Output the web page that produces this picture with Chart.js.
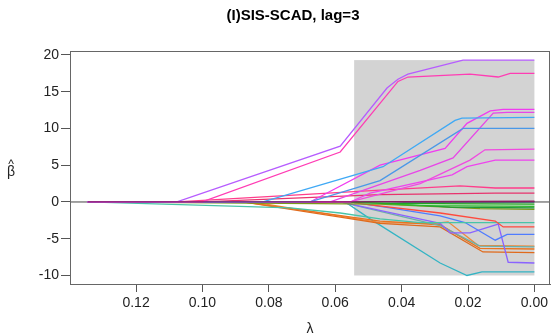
<!DOCTYPE html>
<html>
<head>
<meta charset="utf-8">
<script src="https://cdn.jsdelivr.net/npm/chart.js@4.4.1/dist/chart.umd.min.js"></script>
<style>
  body { margin: 0; background: #fff; }
  #wrap { width: 552px; height: 336px; }
</style>
</head>
<body>
<div id="wrap"><canvas id="pathChart" width="552" height="336"></canvas></div>
<script>
// coefficient paths: [lambda, beta]
const pathMaroon   = [[0.1346, 0], [0.0585, 0], [0, 0.1]];
const pathPurple   = [[0.1346, 0], [0.1077, 0], [0.0585, 7.6], [0.0444, 15.5], [0.0411, 16.7], [0.0381, 17.4], [0.0215, 19.3], [0, 19.3]];
const pathPink     = [[0.1346, 0], [0.1001, 0], [0.0585, 6.8], [0.0411, 16.4], [0.0381, 17.0], [0.0194, 17.4], [0.0109, 17.0], [0.0073, 17.5], [0, 17.5]];
const pathBlue1    = [[0.1346, 0], [0.0818, 0], [0.0456, 4.8], [0.0239, 11.1], [0.0218, 11.4], [0, 11.5]];
const pathBlue2    = [[0.1346, 0], [0.0676, 0], [0.0465, 2.9], [0.0215, 10.0], [0, 10.0]];
const pathMagA     = [[0.1346, 0], [0.0676, 0], [0.0465, 5.0], [0.0269, 7.3], [0.0203, 10.7], [0.0133, 12.4], [0.0094, 12.6], [0, 12.6]];
const pathMagB     = [[0.1346, 0], [0.0615, 0], [0.0344, 4.3], [0.0245, 6.0], [0.0124, 12.1], [0.0082, 12.2], [0, 12.2]];
const pathMagC     = [[0.1346, 0], [0.0555, 0], [0.0344, 2.5], [0.0194, 5.7], [0.0149, 7.1], [0, 7.2]];
const pathMagD     = [[0.1346, 0], [0.0555, 0], [0.0495, 1.2], [0.0248, 3.7], [0.0203, 4.8], [0.0118, 5.7], [0, 5.7]];
const pathPinkE    = [[0.1346, 0], [0.1077, 0], [0.0465, 1.6], [0.0224, 2.2], [0.0118, 1.9], [0, 1.9]];
const pathPinkF    = [[0.1346, 0], [0.1001, 0], [0.0465, 1.0], [0.0118, 1.2], [0, 1.2]];
const pathGreen1   = [[0.1346, 0], [0.0585, 0], [0.0435, -0.2], [0, -0.3]];
const pathGreen2   = [[0.1346, 0], [0.0543, 0], [0.0344, -0.5], [0, -0.6]];
const pathPale     = [[0.1346, 0], [0.0585, 0], [0.0254, -0.4], [0, -0.4]];
const pathGreen3   = [[0.1346, 0], [0.0495, 0], [0.0254, -0.7], [0, -0.8]];
const pathOlive    = [[0.1346, 0], [0.0465, -0.3], [0.0164, -0.9], [0, -1.0]];
const pathNavy     = [[0.1346, 0], [0, 0]];
const pathRed      = [[0.1346, 0], [0.0555, 0], [0.0495, -0.4], [0.0284, -1.5], [0.0118, -2.6], [0.0094, -3.4], [0, -3.4]];
const pathTeal     = [[0.1346, 0], [0.0736, -0.8], [0.0585, -1.5], [0.0465, -2.3], [0.0344, -2.8], [0, -2.8]];
const pathBlue3    = [[0.1346, 0], [0.0555, 0], [0.0435, -0.8], [0.0284, -1.9], [0.0209, -2.8], [0.0118, -5.2], [0.0082, -4.4], [0, -4.4]];
const pathViolet   = [[0.1346, 0], [0.0585, 0], [0.0284, -2.9], [0.0254, -4.2], [0.0194, -4.2], [0.0109, -3.0], [0.0079, -8.2], [0, -8.3]];
const pathTealGray = [[0.1346, 0], [0.0585, 0], [0.0284, -3.2], [0.0164, -6.0], [0, -6.1]];
const pathOrange1  = [[0.1346, 0], [0.0878, 0], [0.0465, -2.6], [0.0284, -3.1], [0.0164, -6.3], [0, -6.4]];
const pathOrange2  = [[0.1346, 0], [0.0878, 0], [0.0465, -2.9], [0.0284, -3.4], [0.0155, -6.8], [0, -6.9]];
const pathOrange3  = [[0.1346, 0], [0.0850, 0], [0.0465, -2.8], [0.0300, -2.9], [0.0260, -2.7], [0.0170, -5.9], [0, -6.0]];
const pathCyan     = [[0.1346, 0], [0.0570, 0], [0.0495, -2.3], [0.0284, -8.3], [0.0203, -10.0], [0.0158, -9.5], [0, -9.5]];

const allPaths = [pathMaroon, pathPurple, pathPink, pathBlue1, pathBlue2, pathMagA, pathMagB, pathMagC, pathMagD,
  pathPinkE, pathPinkF, pathGreen1, pathGreen2, pathPale, pathGreen3, pathOlive, pathNavy, pathRed, pathTeal,
  pathBlue3, pathViolet, pathTealGray, pathOrange1, pathOrange2, pathOrange3, pathCyan];
const pathColors = ["#8b1c62", "#b65cff", "#ff3cb4", "#3fa9f5", "#4a98e8", "#f03cf0", "#e845e8", "#f04ae0", "#ee44ee",
  "#ff3d8b", "#e8336e", "#22a622", "#2eb82e", "#d8f5d8", "#1a9a3a", "#7a9a1a", "#1c3c5c", "#ff4a3d", "#48c4a8",
  "#4f7cff", "#8a63ff", "#6ab0a8", "#e8731f", "#e06a1c", "#f0883a", "#33b4c4"];

// selected region (lambda range, beta range) and tick values
const shadeLambda = [0.0543, 0];
const shadeBeta = [-10, 19.3];
const xTickValues = [0, 0.02, 0.04, 0.06, 0.08, 0.10, 0.12];
const yTickValues = [-10, -5, 0, 5, 10, 15, 20];

const FONT = "'Liberation Sans', Arial, Helvetica, sans-serif";

const backdrop = {
  id: "backdrop",
  beforeDatasetsDraw(chart) {
    const { ctx, chartArea, scales } = chart;
    const x0 = scales.x.getPixelForValue(shadeLambda[0]);
    const x1 = scales.x.getPixelForValue(shadeLambda[1]);
    const y0 = scales.y.getPixelForValue(shadeBeta[1]);
    const y1 = scales.y.getPixelForValue(shadeBeta[0]);
    ctx.save();
    ctx.fillStyle = "#d3d3d3";
    ctx.fillRect(x0, y0, x1 - x0, y1 - y0);
    const yz = scales.y.getPixelForValue(0);
    ctx.strokeStyle = "#444";
    ctx.lineWidth = 1;
    ctx.beginPath();
    ctx.moveTo(chartArea.left, yz);
    ctx.lineTo(chartArea.right, yz);
    ctx.stroke();
    ctx.restore();
  },
  afterDraw(chart) {
    const { ctx, chartArea } = chart;
    ctx.save();
    ctx.strokeStyle = "#666";
    ctx.lineWidth = 1;
    ctx.strokeRect(chartArea.left + 0.5, chartArea.top + 0.5,
      chartArea.right - chartArea.left - 1, chartArea.bottom - chartArea.top);
    // title and y label
    ctx.fillStyle = "#000";
    ctx.textAlign = "center";
    ctx.textBaseline = "middle";
    ctx.font = "bold 15px " + FONT;
    ctx.fillText("(I)SIS-SCAD, lag=3", 293, 16);
    ctx.fillStyle = "#222";
    ctx.font = "14px " + FONT;
    ctx.fillText("β", 11, 172);
    ctx.font = "12px " + FONT;
    ctx.fillText("^", 11, 165);
    ctx.restore();
  }
};

const datasets = allPaths.map((p, i) => ({
  data: p.map(pt => ({ x: pt[0], y: pt[1] })),
  borderColor: pathColors[i],
  borderWidth: 1.3,
  pointRadius: 0,
  fill: false,
  tension: 0
}));

new Chart(document.getElementById("pathChart"), {
  type: "line",
  data: { datasets },
  options: {
    responsive: false,
    animation: false,
    devicePixelRatio: 1,
    layout: { padding: { top: 51, right: 2, left: 0, bottom: 0 } },
    plugins: { legend: { display: false }, tooltip: { enabled: false } },
    scales: {
      x: {
        type: "linear",
        reverse: true,
        min: -0.0047,
        max: 0.1399,
        afterBuildTicks: s => { s.ticks = xTickValues.map(v => ({ value: v })); },
        afterFit: s => { s.height = 52; },
        grid: { drawOnChartArea: false, color: "#555", tickLength: 8 },
        border: { color: "#666" },
        ticks: {
          color: "#222", padding: 3, maxRotation: 0,
          font: { family: FONT, size: 14 },
          callback: v => v.toFixed(2)
        },
        title: {
          display: true, text: "λ", color: "#222",
          font: { family: FONT, size: 14, lineHeight: 1 },
          padding: { top: 0, bottom: 0 }
        }
      },
      y: {
        min: -11.16,
        max: 20.54,
        afterBuildTicks: s => { s.ticks = yTickValues.map(v => ({ value: v })); },
        afterFit: s => { s.width = 70; },
        grid: { drawOnChartArea: false, color: "#555", tickLength: 9 },
        border: { color: "#666" },
        ticks: {
          color: "#222", padding: 2,
          font: { family: FONT, size: 14 },
          callback: v => String(v)
        }
      }
    }
  },
  plugins: [backdrop]
});
</script>
</body>
</html>
